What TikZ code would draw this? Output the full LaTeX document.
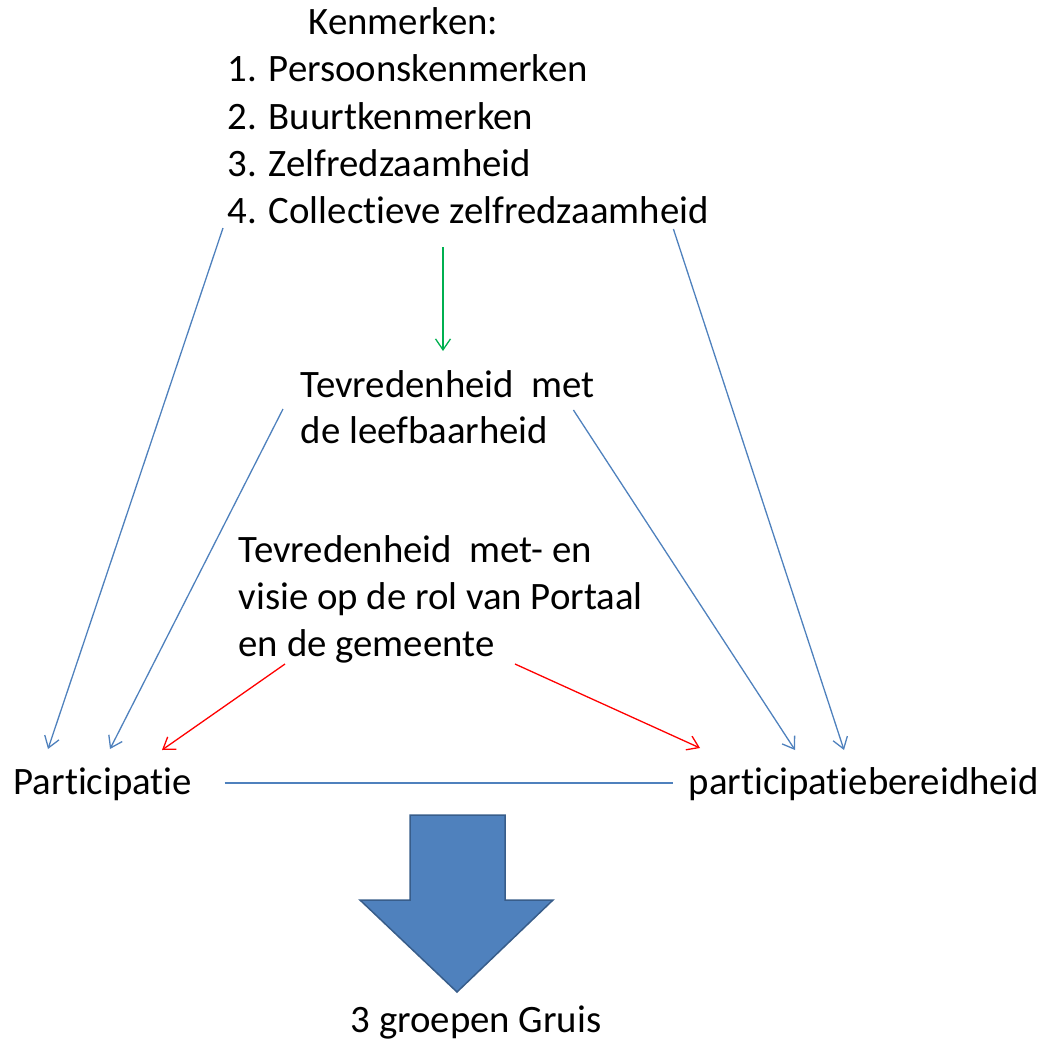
\documentclass[tikz,border=0pt]{standalone}
\usepackage{fontspec}
\setmainfont{Carlito}[Ligatures=NoCommon]
\usetikzlibrary{arrows.meta,positioning}
\definecolor{accblue}{HTML}{4F81BD}
\definecolor{accgreen}{HTML}{00B050}
\definecolor{accred}{HTML}{FF0000}
\definecolor{darkblue}{HTML}{385D8A}

\begin{document}
\begin{tikzpicture}[x=1pt, y=-1pt, >={Straight Barb[length=11pt,width=15pt]}, node distance=47pt]
	\tikzstyle{txt} = [inner sep=0pt, anchor=base west, font=\fontsize{38.8}{47}\selectfont]
	\tikzstyle{line} = [line width=1.3pt]
	\useasboundingbox (0,0) rectangle (1043,1038);

	\path[->, line]
	node[txt] (kenm) at (308,35) {Kenmerken:}
	node[txt] (k1) at (227,82) {1. Persoonskenmerken}
	node[txt, below=of k1.base west, anchor=base west] (k2) {2. Buurtkenmerken}
	node[txt, below=of k2.base west, anchor=base west] (k3) {3. Zelfredzaamheid}
	node[txt, below=of k3.base west, anchor=base west] (k4) {4. Collectieve zelfredzaamheid}

	node[txt] (tev1) at (300,397) {Tevredenheid\ \ met}
	node[txt, below=46pt of tev1.base west, anchor=base west] (tev2) {de leefbaarheid}

	node[txt] (rol1) at (238,562) {Tevredenheid\ \ met- en}
	node[txt, below=of rol1.base west, anchor=base west] (rol2) {visie op de rol van Portaal}
	node[txt, below=of rol2.base west, anchor=base west] (rol3) {en de gemeente}

	node[txt] (part) at (13,794) {Participatie}
	node[txt] (bereid) at (688,794) {participatiebereidheid}
	node[txt] (gruis) at (350,1032) {3 groepen Gruis}

	([shift={(-4,5)}]k4.base west) edge[accblue] ([shift={(35,-45)}]part.base west)
	([shift={(-17,12)}]tev1.base west) edge[accblue] ([shift={(97,-45)}]part.base west)
	([shift={(-22,13)}]tev1.base east) edge[accblue] ([shift={(107,-44)}]bereid.base west)
	([shift={(-36,6)}]k4.base east) edge[accblue] ([shift={(156,-44)}]bereid.base west)
	([shift={(216,24)}]k4.base west) edge[accgreen] ([shift={(143,-46)}]tev1.base west)
	([shift={(47,8)}]rol3.base west) edge[accred] ([shift={(149,-44)}]part.base west)
	([shift={(20,8)}]rol3.base east) edge[accred] ([shift={(12,-46)}]bereid.base west)
	([shift={(32,-11)}]part.base east) edge[-, accblue] ([shift={(-15,-11)}]bereid.base west)
	;

	% grote pijl naar de groepen
	\draw[fill=accblue, draw=darkblue, line width=1.5pt] (410,815) -- (505,815) -- (505,900) -- (553,900)
		-- (457,992) -- (360,900) -- (410,900) -- cycle;
\end{tikzpicture}
\end{document}
